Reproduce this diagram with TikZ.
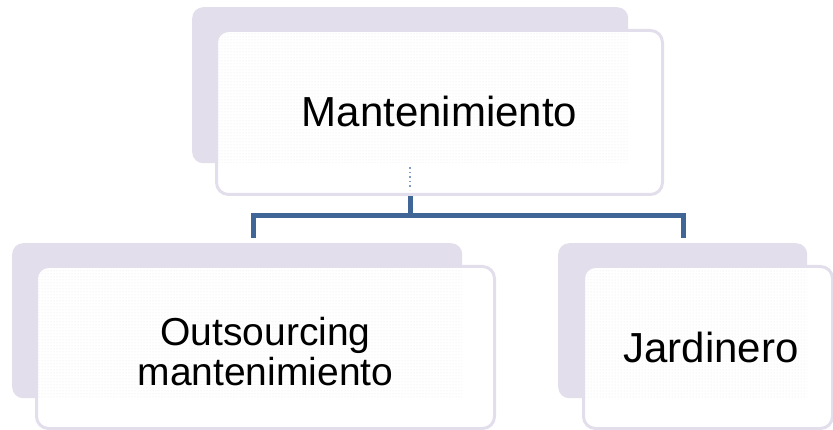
\documentclass[tikz,border=0pt]{standalone}
\usepackage{fontspec}
\setmainfont{Liberation Sans}
\usetikzlibrary{patterns}
\definecolor{lav}{HTML}{E3DEEB}
\definecolor{connblue}{HTML}{3F6697}
\definecolor{dotblue}{HTML}{7F9CC4}
\tikzset{
  backbox/.style={rectangle, fill=lav, draw=none, rounded corners=11pt, anchor=north west, inner sep=0pt},
  frontbox/.style={rectangle, fill=white, draw=lav, line width=3pt, rounded corners=12pt, anchor=north west, inner sep=0pt},
  dotfill/.style={pattern=dots, pattern color=black!9},
  label/.style={font=\fontsize{42}{40}\selectfont, align=center, text=black, inner sep=0pt},
  smalllabel/.style={font=\fontsize{39}{40}\selectfont, align=center, text=black, inner sep=0pt},
  conn/.style={draw=connblue, line width=5pt},
  thin dots/.style={draw=dotblue, line width=1.6pt, dash pattern=on 1.6pt off 3pt}
}
\begin{document}
\begin{tikzpicture}[x=1pt,y=-1pt]
\useasboundingbox (0,0) rectangle (833,430);
% connectors
\coordinate (c0) at (410,192);
\coordinate (j) at (410,216);
\coordinate (cL) at (253,238);
\coordinate (cR) at (683,238);
\draw[conn] (c0) -- (j);
\draw[conn] (cL) |- (j) -| (cR);
% top
\node[backbox, minimum width=436pt, minimum height=156pt] (mb) at (192,7) {};
\node[frontbox, minimum width=446pt, minimum height=164pt] (m) at (215,29) {};
\fill[dotfill] (218,33) rectangle (628,163);
\node[label] (mt) at ([yshift=1pt]m.center) {Mantenimiento};
\coordinate (d0) at (410,167);
\coordinate (d1) at (410,190);
\draw[thin dots] (d0) -- (d1);
% bottom left
\node[backbox, minimum width=450pt, minimum height=155pt] (ob) at (12,243) {};
\node[frontbox, minimum width=458pt, minimum height=162pt] (o) at (35,265) {};
\fill[dotfill] (38,269) rectangle (462,398);
\node[smalllabel] (ot) at ([yshift=-4pt]o.center) {Outsourcing\\mantenimiento};
% bottom right
\node[backbox, minimum width=249pt, minimum height=155pt] (jb) at (558,243) {};
\node[frontbox, minimum width=249pt, minimum height=162pt] (jf) at (582,265) {};
\fill[dotfill] (585,269) rectangle (807,398);
\node[label] (jt) at ([xshift=3pt]jf.center) {Jardinero};
\end{tikzpicture}
\end{document}
